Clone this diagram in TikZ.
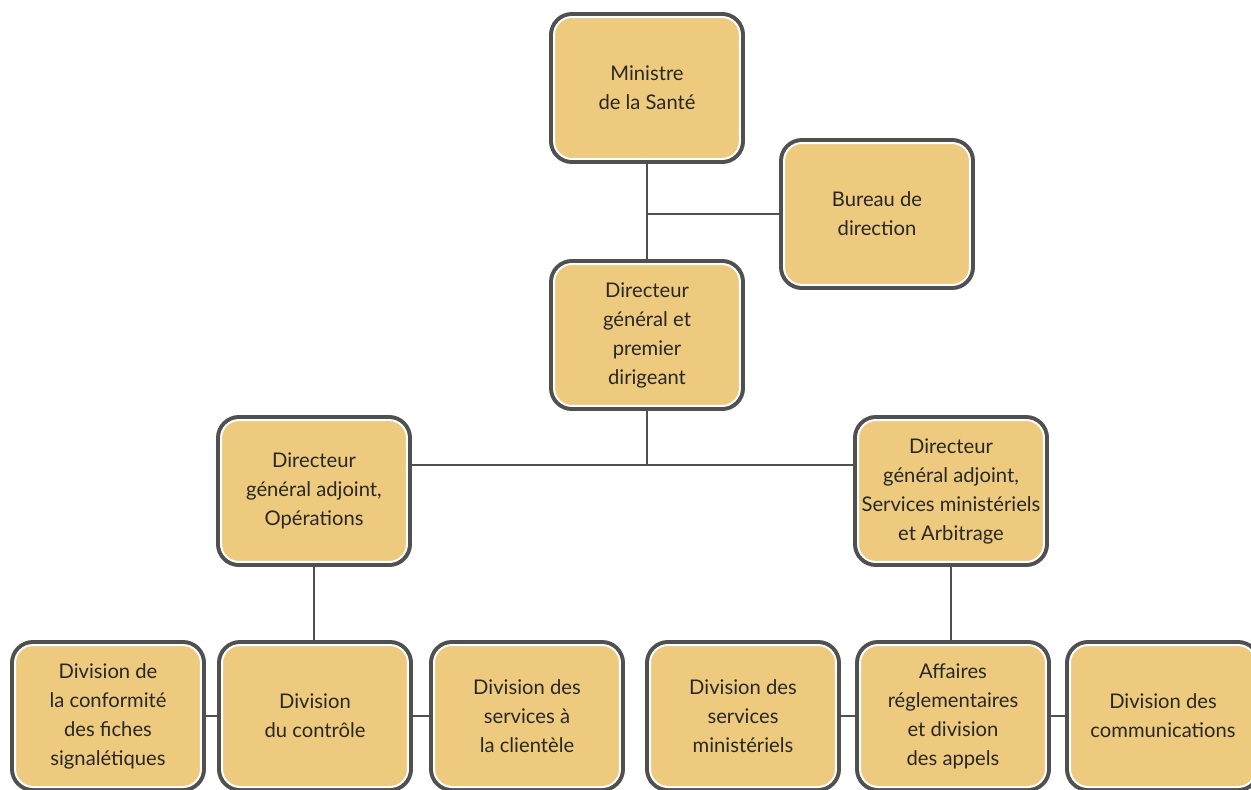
\documentclass[tikz,border=0pt]{standalone}
\usepackage{fontspec}
\setmainfont{Lato}
\usepackage{xcolor}
\definecolor{boxfill}{RGB}{237,202,126}
\definecolor{boxline}{RGB}{80,80,80}
\definecolor{ink}{RGB}{40,40,40}
\usetikzlibrary{positioning}
\usetikzlibrary{calc}

\tikzset{
  unit/.style={rectangle, rounded corners=0.36cm, fill=boxfill, draw=white, line width=0.04cm,
    preaction={draw=boxline, line width=0.2cm},
    minimum width=3.72cm, minimum height=2.84cm, inner sep=0pt,
    align=center, text=ink, font=\fontsize{11.5}{16.5}\selectfont},
  link/.style={draw=boxline, line width=0.04cm}
}

\begin{document}
\begin{tikzpicture}[x=0.02cm, y=-0.02cm]

    \useasboundingbox (0,0) rectangle (1251,789);

    % top of the chart
    \node[unit] (min) at (647,88) {Ministre\\de la Santé};
    \node[unit] (bureau) at (877,214) {Bureau de\\direction};
    \node[unit] (dg) at (647,335) {Directeur\\général et\\premier\\dirigeant};

    % the two deputies
    \node[unit] (dgaops) at (314,491) {Directeur\\général adjoint,\\Opérations};
    \node[unit] (dgaserv) at (951,491) {Directeur\\général adjoint,\\Services ministériels\\et Arbitrage};

    % divisions
    \node[unit] (fiches) at (108,716) {Division de\\la conformité\\des fiches\\signalétiques};
    \node[unit] (controle) at (315,716) {Division\\du contrôle};
    \node[unit] (clientele) at (527,716) {Division des\\services à\\la clientèle};
    \node[unit] (minist) at (743,716) {Division des\\services\\ministériels};
    \node[unit] (appels) at (953,716) {Affaires\\réglementaires\\et division\\des appels};
    \node[unit] (comm) at (1163,716) {Division des\\communications};

    \coordinate (split) at (647,465);

    \draw[link] (min) -- (dg);
    \draw[link] (bureau.west) -- (bureau.west -| min);
    \draw[link] (dg) -- (split);
    \draw[link] (dgaops.east |- split) -- (dgaserv.west |- split);
    \draw[link] (dgaops.south) -- (dgaops.south |- controle.north);
    \draw[link] (dgaserv.south) -- (dgaserv.south |- appels.north);
    \draw[link] (fiches) -- (controle);
    \draw[link] (controle) -- (clientele);
    \draw[link] (minist) -- (appels);
    \draw[link] (appels) -- (comm);

\end{tikzpicture}
\end{document}
